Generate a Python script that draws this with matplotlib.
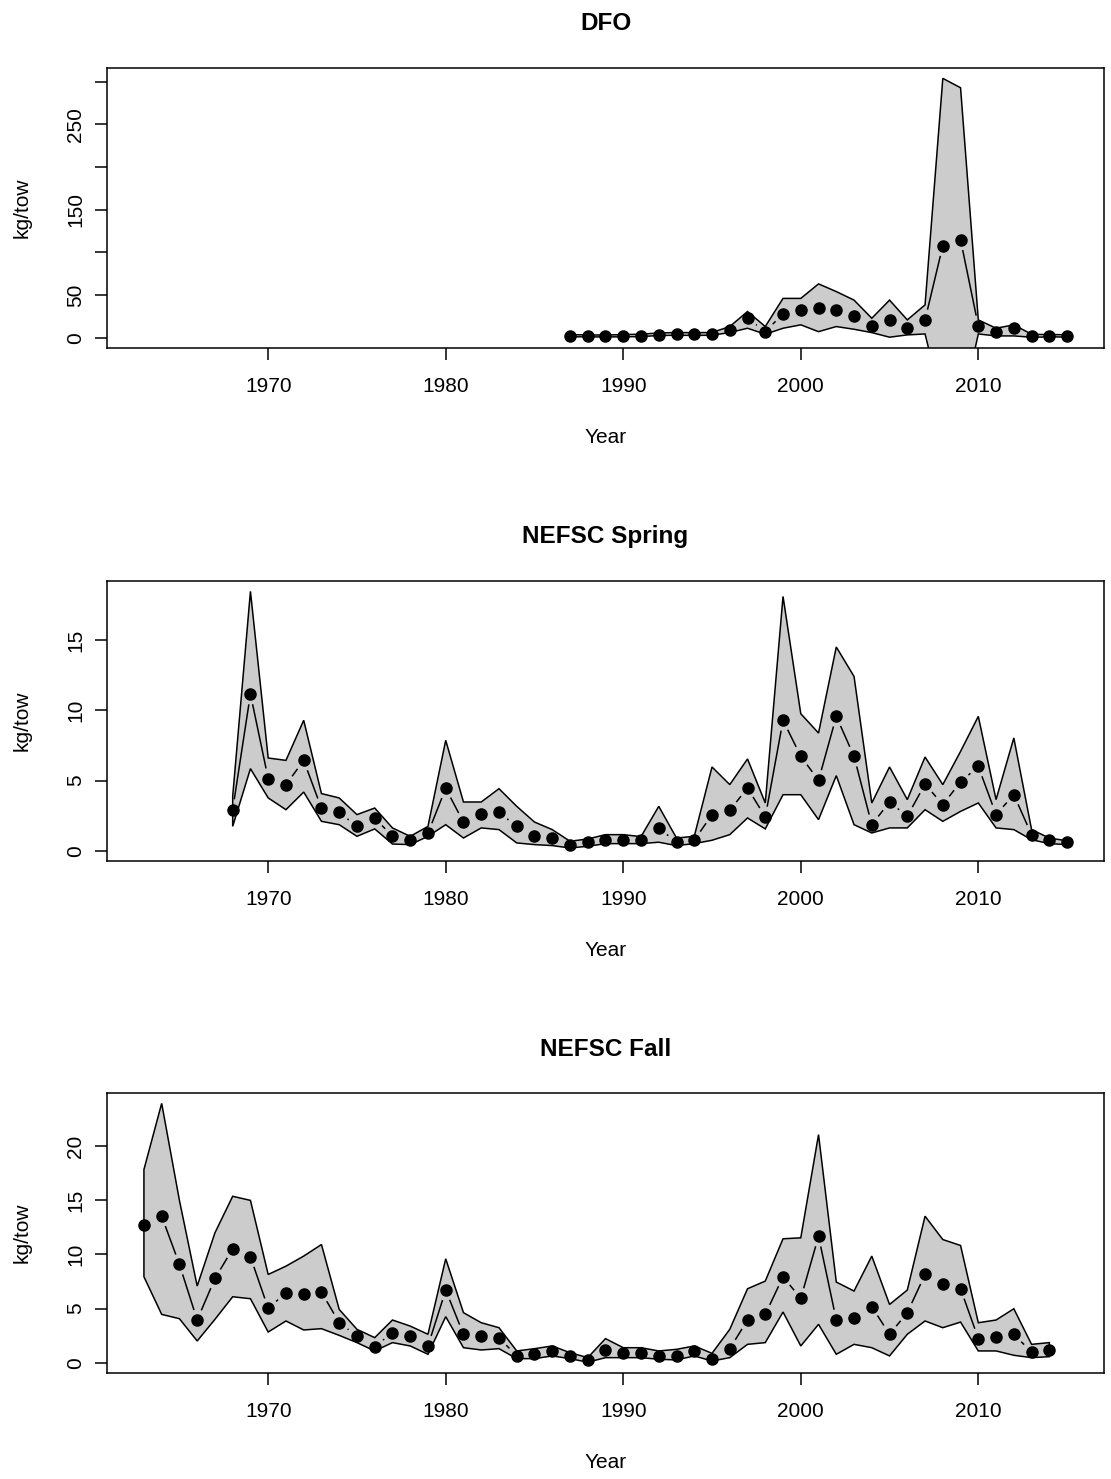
import numpy as np
import matplotlib
matplotlib.use("Agg")
import matplotlib.pyplot as plt

plt.rcParams['font.family'] = ['Liberation Sans', 'DejaVu Sans']

# --- DFO survey index (kg/tow) with confidence band
dfo_years = np.arange(1987, 2016)
dfo_index = [2.0, 1.8, 1.6, 2.1, 2.4, 3.6, 4.2, 4.0, 4.3, 9.0,
             22.7, 7.1, 27.8, 32.5, 34.5, 32.5, 25.5, 13.7, 20.8, 11.8,
             20.8, 107.8, 114.8, 13.7, 7.1, 11.0, 2.0, 2.0, 2.0]
dfo_upper = [3.5, 3.2, 3.0, 3.6, 4.0, 5.5, 6.0, 5.8, 6.0, 13.0,
             30.6, 13.0, 46.0, 46.0, 63.0, 54.0, 44.0, 22.7, 44.0, 20.8,
             38.4, 304.0, 293.0, 20.8, 11.0, 15.0, 4.0, 3.5, 3.5]
dfo_lower = [1.0, 0.9, 0.8, 1.0, 1.2, 2.5, 2.8, 2.6, 2.8, 6.0,
             11.0, 4.0, 11.0, 15.0, 7.0, 13.0, 9.8, 5.9, 0.5, 3.2,
             4.3, -80.0, -90.0, 4.3, 2.0, 2.0, 0.5, 0.8, 0.8]

# --- NEFSC spring
spring_years = np.arange(1968, 2016)
spring_index = [2.92, 11.18, 5.13, 4.70, 6.44, 3.02, 2.73, 1.73, 2.33, 1.02,
                0.74, 1.26, 4.45, 2.02, 2.62, 2.73, 1.73, 1.02, 0.90, 0.40,
                0.60, 0.78, 0.78, 0.74, 1.62, 0.60, 0.74, 2.57, 2.88, 4.47,
                2.40, 9.30, 6.73, 5.02, 9.58, 6.73, 1.85, 3.47, 2.45, 4.75,
                3.28, 4.90, 6.01, 2.57, 3.99, 1.14, 0.74, 0.60]
spring_upper = [3.87, 18.5, 6.61, 6.44, 9.30, 4.07, 3.76, 2.57, 3.04, 1.62,
                1.02, 1.73, 7.87, 3.47, 3.47, 4.42, 3.16, 2.04, 1.50, 0.67,
                0.83, 1.14, 1.14, 1.00, 3.16, 0.90, 1.02, 5.97, 4.71, 6.54,
                3.40, 18.14, 9.77, 8.39, 14.53, 12.43, 3.40, 5.97, 3.64, 6.68,
                4.71, 7.08, 9.58, 3.64, 8.04, 1.50, 0.90, 0.70]
spring_lower = [1.73, 5.85, 3.76, 2.92, 4.18, 2.09, 1.85, 1.02, 1.55, 0.47,
                0.43, 1.02, 1.85, 0.90, 1.62, 1.50, 0.55, 0.43, 0.36, 0.19,
                0.31, 0.50, 0.50, 0.50, 0.60, 0.36, 0.50, 0.74, 1.14, 2.33,
                1.55, 3.99, 3.99, 2.21, 5.35, 1.85, 1.26, 1.62, 1.62, 2.92,
                2.09, 2.80, 3.40, 1.62, 1.50, 0.78, 0.50, 0.43]

# --- NEFSC fall
fall_years = np.arange(1963, 2015)
fall_index = [12.77, 13.54, 9.08, 3.94, 7.78, 10.52, 9.78, 5.02, 6.46, 6.31,
              6.52, 3.69, 2.46, 1.48, 2.77, 2.46, 1.54, 6.71, 2.62, 2.46,
              2.31, 0.62, 0.80, 1.08, 0.62, 0.25, 1.17, 0.86, 0.86, 0.62,
              0.62, 1.08, 0.37, 1.29, 3.94, 4.46, 7.94, 5.94, 11.69, 3.94,
              4.09, 5.17, 2.62, 4.62, 8.15, 7.23, 6.83, 2.22, 2.40, 2.62,
              0.98, 1.14]
fall_upper = [17.85, 23.97, 15.0, 7.08, 12.0, 15.38, 15.0, 8.15, 8.92, 9.85,
              10.92, 4.92, 3.08, 2.31, 3.94, 3.38, 2.62, 9.60, 4.62, 3.69,
              3.23, 1.08, 1.29, 1.54, 0.92, 0.46, 2.22, 1.38, 1.38, 1.08,
              1.23, 1.54, 0.86, 3.08, 6.83, 7.54, 11.45, 11.54, 21.08, 7.45,
              6.62, 9.85, 5.38, 6.71, 13.54, 11.38, 10.83, 3.69, 3.94, 4.98,
              1.69, 1.85]
fall_lower = [7.94, 4.46, 4.06, 2.0, 4.0, 6.09, 5.91, 2.83, 3.85, 3.02,
              3.14, 2.52, 1.85, 1.08, 1.85, 1.54, 0.77, 4.25, 1.38, 1.17,
              1.29, 0.37, 0.37, 0.62, 0.37, 0.04, 0.46, 0.46, 0.46, 0.31,
              0.25, 0.62, 0.15, 0.46, 1.69, 1.85, 4.68, 1.54, 3.54, 0.77,
              1.69, 1.38, 0.62, 2.62, 3.85, 3.23, 3.75, 1.08, 1.08, 0.68,
              0.46, 0.55]

panels = [
    ("DFO", dfo_years, dfo_index, dfo_lower, dfo_upper,
     [0, 50, 100, 150, 200, 250, 300], ["0", "50", "", "150", "", "250", ""]),
    ("NEFSC Spring", spring_years, spring_index, spring_lower, spring_upper,
     [0, 5, 10, 15], ["0", "5", "10", "15"]),
    ("NEFSC Fall", fall_years, fall_index, fall_lower, fall_upper,
     [0, 5, 10, 15, 20], ["0", "5", "10", "15", "20"]),
]

W, H = 1111, 1479
fig = plt.figure(figsize=(W / 100, H / 100), dpi=100)
fig.patch.set_facecolor("white")

left_px, right_px = 107, 1104
box_h = 280
tops = [68, 581, 1093]
xlim = (1963 - 0.04 * 52, 2015 + 0.04 * 52)


def gapped_line(ax, x, y, gap=10.5):
    # mimic R type="b": connecting segments stop short of each point
    pts = ax.transData.transform(np.column_stack([x, y]))
    inv = ax.transData.inverted()
    for p0, p1 in zip(pts[:-1], pts[1:]):
        d = p1 - p0
        L = np.hypot(*d)
        if L <= 2 * gap + 1:
            continue
        u = d / L
        a, b = inv.transform(np.array([p0 + u * gap, p1 - u * gap]))
        ax.plot([a[0], b[0]], [a[1], b[1]], color="black", lw=1.1,
                solid_capstyle="butt")


for (title, yrs, idx, lo, hi, yt, ytl), top in zip(panels, tops):
    ax = fig.add_axes([left_px / W, 1 - (top + box_h) / H,
                       (right_px - left_px) / W, box_h / H])
    ymax = max(hi)
    ax.set_xlim(*xlim)
    ax.set_ylim(-0.04 * ymax, ymax * 1.04)

    ax.fill(np.concatenate([yrs, yrs[::-1]]),
            np.concatenate([lo, hi[::-1]]),
            facecolor="#cccccc", edgecolor="black", lw=1.1, zorder=1)
    gapped_line(ax, yrs, idx)
    ax.plot(yrs, idx, "o", color="black", ms=8, zorder=3)

    ax.set_xticks([1970, 1980, 1990, 2000, 2010])
    ax.set_yticks(yt)
    ax.set_yticklabels(ytl)
    ax.tick_params(direction="out", length=8.6, width=1.1, labelsize=15)
    ax.tick_params(axis="x", pad=12)
    ax.tick_params(axis="y", pad=7, labelrotation=90)
    for lab in ax.get_yticklabels():
        lab.set_va("center")
    for s in ax.spines.values():
        s.set_linewidth(1.1)

    ax.set_title(title, fontsize=17.5, fontweight="bold", pad=27)
    ax.set_xlabel("Year", fontsize=15)
    ax.set_ylabel("kg/tow", fontsize=15)
    ax.xaxis.set_label_coords(0.5, -0.285)
    ax.yaxis.set_label_coords(-0.076, 0.5)

fig.savefig("out.png", dpi=100)
